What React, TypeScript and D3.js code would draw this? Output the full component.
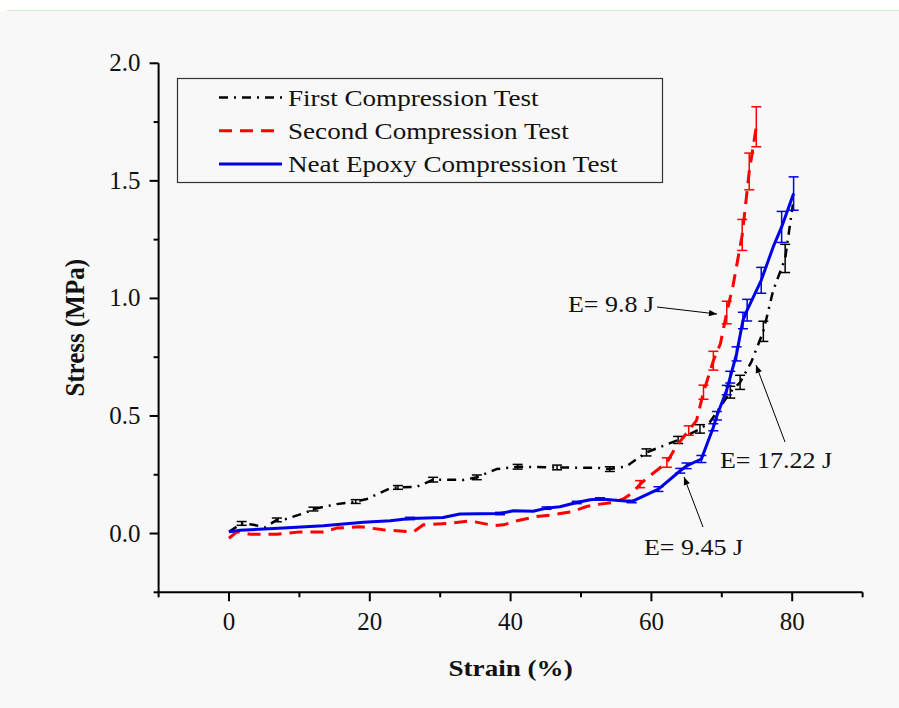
import React from "react";
import * as d3 from "d3";

const strainFirst = [0, 1.8, 3.5, 5.1, 6.8, 8, 11, 12, 15.3, 18, 19.6, 22.9, 24, 26.7, 29, 33.3, 35.2, 38, 41, 46.6, 52.7, 54.1, 56.4, 59.3, 63.8, 66.9, 68.3, 71.2, 72.6, 74.2, 75.9, 77.3, 79, 80.1];
const stressFirst = [0.007, 0.043, 0.037, 0.026, 0.058, 0.061, 0.09, 0.104, 0.125, 0.136, 0.147, 0.193, 0.196, 0.199, 0.229, 0.228, 0.239, 0.274, 0.284, 0.281, 0.279, 0.274, 0.285, 0.345, 0.398, 0.445, 0.473, 0.601, 0.643, 0.73, 0.86, 1.034, 1.17, 1.40];
const errFirst = [0, 0.008, 0, 0, 0.008, 0, 0, 0.008, 0, 0.008, 0, 0, 0.008, 0, 0.01, 0, 0.01, 0, 0.01, 0.01, 0, 0.01, 0, 0.015, 0.015, 0.018, 0, 0.025, 0.03, 0, 0.043, 0, 0.06, 0];

const strainSecond = [0, 1.1, 3, 6.8, 10.1, 13.4, 15.3, 18.6, 21.9, 26.2, 27.6, 31.4, 34.2, 37.6, 39, 40.9, 43.7, 45.6, 47.5, 48.9, 50.8, 52.7, 54.6, 56, 57.4, 58.4, 59.8, 62.2, 63.6, 65.3, 66.4, 67.4, 68.8, 69.8, 70.7, 71.6, 72.9, 73.9, 74.9];
const stressSecond = [-0.02, 0.007, -0.003, -0.003, 0.007, 0.007, 0.023, 0.029, 0.016, 0.007, 0.037, 0.044, 0.054, 0.034, 0.037, 0.054, 0.072, 0.078, 0.087, 0.094, 0.115, 0.125, 0.132, 0.147, 0.175, 0.21, 0.246, 0.302, 0.374, 0.438, 0.48, 0.601, 0.735, 0.807, 0.94, 1.055, 1.27, 1.54, 1.73];
const errSecond = [0, 0, 0, 0, 0, 0, 0, 0, 0, 0, 0, 0, 0, 0, 0, 0, 0, 0, 0, 0, 0, 0, 0, 0, 0, 0.015, 0, 0.02, 0, 0.02, 0, 0.03, 0.04, 0, 0.048, 0, 0.066, 0.078, 0.085];

const strainNeat = [0, 1.6, 7.7, 13.4, 19.1, 22.9, 25.7, 30.4, 32.8, 38.5, 40.4, 43.2, 45.1, 47, 49.4, 51.3, 52.7, 57.2, 61, 64.1, 65, 67.1, 68.8, 69.3, 70.7, 71.2, 72.1, 73, 73.6, 75.6, 77.3, 78.5, 80.2];
const stressNeat = [0.007, 0.014, 0.023, 0.033, 0.048, 0.054, 0.064, 0.068, 0.083, 0.085, 0.097, 0.095, 0.108, 0.114, 0.132, 0.144, 0.147, 0.136, 0.189, 0.267, 0.288, 0.317, 0.452, 0.501, 0.61, 0.665, 0.764, 0.906, 0.95, 1.077, 1.219, 1.304, 1.446];
const errNeat = [0, 0, 0, 0, 0, 0, 0.005, 0, 0, 0.005, 0, 0, 0.005, 0, 0.005, 0, 0.005, 0.005, 0.01, 0.01, 0.012, 0.015, 0.015, 0.018, 0.02, 0.025, 0.03, 0.035, 0.046, 0.055, 0, 0.066, 0.071];

const xTicks = [0, 20, 40, 60, 80];
const yTicks = [0.0, 0.5, 1.0, 1.5, 2.0];
const xMinor = [-10, 10, 30, 50, 70, 90];
const yMinor = [-0.25, 0.25, 0.75, 1.25, 1.75];

const seriesNames = ["First Compression Test", "Second Compression Test", "Neat Epoxy Compression Test"];

const annotations = [
  { text: "E= 9.8 J", tx: 568, ty: 312, x1: 657, y1: 307, x2: 717, y2: 314 },
  { text: "E= 17.22 J", tx: 720, ty: 468, x1: 785, y1: 442, x2: 756, y2: 365 },
  { text: "E= 9.45 J", tx: 644, ty: 555, x1: 703, y1: 527, x2: 684, y2: 477 },
];

const SERIF = "'Liberation Serif', 'Times New Roman', serif";
const SX = 1.13;

function WideText(props: { x: number; y: number; size: number; anchor?: string; bold?: boolean; children: any }) {
  return (
    <text
      transform={`translate(${props.x},${props.y}) scale(${SX},1)`}
      textAnchor={props.anchor || "start"}
      fontFamily={SERIF}
      fontSize={props.size}
      fontWeight={props.bold ? "bold" : "normal"}
      fill="#111"
    >
      {props.children}
    </text>
  );
}

export default function App() {
  const x = d3.scaleLinear().domain([-10, 90]).range([158.6, 862.6]);
  const y = d3.scaleLinear().domain([-0.25, 2.0]).range([592.3, 63.3]);

  const series = [
    { xs: strainFirst, ys: stressFirst, es: errFirst, color: "#000000", dash: "9,6,2,6", width: 2.5 },
    { xs: strainSecond, ys: stressSecond, es: errSecond, color: "#ff0000", dash: "13,8", width: 3 },
    { xs: strainNeat, ys: stressNeat, es: errNeat, color: "#0000e6", dash: "", width: 3 },
  ];

  const line = d3
    .line<[number, number]>()
    .x((d) => x(d[0]))
    .y((d) => y(d[1]));

  const x0 = x(-10);
  const yb = y(-0.25);

  return (
    <div style={{ position: "absolute", left: 0, top: 0 }}>
      <svg width={899} height={708} style={{ display: "block" }}>
        <defs>
          <marker id="arr" viewBox="0 0 10 10" refX="10" refY="5" markerWidth="11" markerHeight="8" markerUnits="userSpaceOnUse" orient="auto">
            <path d="M0,1 L10,5 L0,9 z" fill="#000" />
          </marker>
        </defs>
        <rect x={0} y={0} width={899} height={708} fill="#ffffff" />
        <rect x={0} y={11} width={899} height={697} fill="#f8f8f8" />
        <line x1={7} x2={899} y1={10.5} y2={10.5} stroke="#d4f0d4" strokeWidth={1} />

        {/* axes */}
        <line x1={x0} x2={x0} y1={y(2.0)} y2={yb} stroke="#000" strokeWidth={2} />
        <line x1={x0 - 1} x2={x(90)} y1={yb} y2={yb} stroke="#000" strokeWidth={2} />
        {yTicks.map((t) => (
          <g key={"yt" + t}>
            <line x1={x0 - 9} x2={x0} y1={y(t)} y2={y(t)} stroke="#000" strokeWidth={2} />
            <text x={x0 - 18} y={y(t) + 8} textAnchor="end" fontFamily={SERIF} fontSize={25} fill="#111">
              {t.toFixed(1)}
            </text>
          </g>
        ))}
        {yMinor.map((t) => (
          <line key={"ym" + t} x1={x0 - 5} x2={x0} y1={y(t)} y2={y(t)} stroke="#000" strokeWidth={2} />
        ))}
        {xTicks.map((t) => (
          <g key={"xt" + t}>
            <line x1={x(t)} x2={x(t)} y1={yb} y2={yb + 9} stroke="#000" strokeWidth={2} />
            <text x={x(t)} y={yb + 38} textAnchor="middle" fontFamily={SERIF} fontSize={25} fill="#111">
              {t}
            </text>
          </g>
        ))}
        {xMinor.map((t) => (
          <line key={"xm" + t} x1={x(t)} x2={x(t)} y1={yb} y2={yb + 5} stroke="#000" strokeWidth={2} />
        ))}

        <WideText x={(x(-10) + x(90)) / 2} y={676} size={24} anchor="middle" bold>
          Strain (%)
        </WideText>
        <text
          transform={`translate(84,${y(0.875)}) rotate(-90) scale(1,${SX})`}
          textAnchor="middle"
          fontFamily={SERIF}
          fontWeight="bold"
          fontSize={25}
          fill="#111"
        >
          Stress (MPa)
        </text>

        {/* series */}
        {series.map((s, i) => {
          const pts: [number, number][] = s.xs.map((v, k) => [v, s.ys[k]]);
          return (
            <g key={"s" + i}>
              <path d={line(pts) || ""} fill="none" stroke={s.color} strokeWidth={s.width} strokeDasharray={s.dash || undefined} strokeLinejoin="round" />
              {pts.map((p, k) =>
                s.es[k] > 0 ? (
                  <g key={"e" + k} stroke={s.color} strokeWidth={1.5}>
                    <line x1={x(p[0])} x2={x(p[0])} y1={y(p[1] - s.es[k])} y2={y(p[1] + s.es[k])} />
                    <line x1={x(p[0]) - 5} x2={x(p[0]) + 5} y1={y(p[1] - s.es[k])} y2={y(p[1] - s.es[k])} />
                    <line x1={x(p[0]) - 5} x2={x(p[0]) + 5} y1={y(p[1] + s.es[k])} y2={y(p[1] + s.es[k])} />
                  </g>
                ) : null
              )}
            </g>
          );
        })}

        {/* legend */}
        <rect x={177.5} y={78.5} width={485} height={104} fill="#f8f8f8" stroke="#333" strokeWidth={1.2} />
        {series.map((s, i) => (
          <g key={"lg" + i}>
            <line x1={219} x2={282} y1={97.5 + i * 33.3} y2={97.5 + i * 33.3} stroke={s.color} strokeWidth={s.width} strokeDasharray={s.dash || undefined} />
            <WideText x={288} y={105.5 + i * 33.3} size={24}>
              {seriesNames[i]}
            </WideText>
          </g>
        ))}

        {/* annotations */}
        {annotations.map((a, i) => (
          <g key={"an" + i}>
            <WideText x={a.tx} y={a.ty} size={23}>
              {a.text}
            </WideText>
            <line x1={a.x1} y1={a.y1} x2={a.x2} y2={a.y2} stroke="#000" strokeWidth={1} markerEnd="url(#arr)" />
          </g>
        ))}
      </svg>
    </div>
  );
}
